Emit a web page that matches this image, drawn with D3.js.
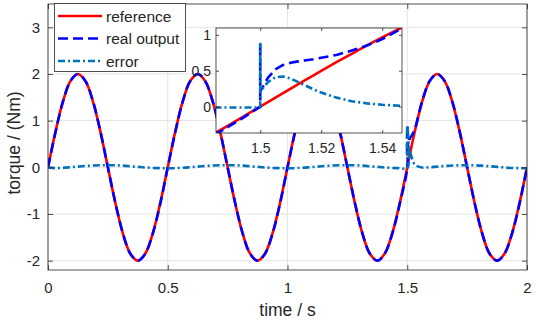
<!DOCTYPE html>
<html>
<head>
<meta charset="utf-8">
<script src="https://cdn.jsdelivr.net/npm/d3@7"></script>
<style>
  body { margin: 0; background: #fff; }
  svg { display: block; font-family: 'Liberation Sans', Arial, sans-serif; }
</style>
</head>
<body>
<svg id="chart" width="536" height="322"></svg>
<script>
// main plot samples (s), extra points around the disturbance at 1.5 s
const time = [
  0, 0.03125, 0.0625, 0.09375, 0.125, 0.15625, 0.1875, 0.21875, 0.25, 0.28125, 0.3125, 0.34375, 0.375, 0.40625, 0.4375, 0.46875,
  0.5, 0.53125, 0.5625, 0.59375, 0.625, 0.65625, 0.6875, 0.71875, 0.75, 0.78125, 0.8125, 0.84375, 0.875, 0.90625, 0.9375, 0.96875,
  1, 1.03125, 1.0625, 1.09375, 1.125, 1.15625, 1.1875, 1.21875, 1.25, 1.28125, 1.3125, 1.34375, 1.375, 1.40625, 1.4375, 1.46875,
  1.5, 1.5, 1.5, 1.505, 1.51, 1.52, 1.53125, 1.5625, 1.59375, 1.625, 1.65625, 1.6875, 1.71875, 1.75, 1.78125, 1.8125, 1.84375,
  1.875, 1.90625, 1.9375, 1.96875, 2
]
const reference = [
  0, 0.765, 1.414, 1.848, 2, 1.848, 1.414, 0.765, 0, -0.765, -1.414, -1.848, -2, -1.848, -1.414, -0.765,
  0, 0.765, 1.414, 1.848, 2, 1.848, 1.414, 0.765, 0, -0.765, -1.414, -1.848, -2, -1.848, -1.414, -0.765,
  0, 0.765, 1.414, 1.848, 2, 1.848, 1.414, 0.765, 0, -0.765, -1.414, -1.848, -2, -1.848, -1.414, -0.765,
  0, 0, 0, 0.126, 0.251, 0.497, 0.765, 1.414, 1.848, 2, 1.848, 1.414, 0.765, 0, -0.765, -1.414, -1.848,
  -2, -1.848, -1.414, -0.765, 0
]
const realOutput = [
  0, 0.75, 1.41, 1.85, 2, 1.85, 1.42, 0.77, 0, -0.76, -1.41, -1.85, -2, -1.85, -1.42, -0.78,
  0, 0.75, 1.41, 1.85, 2, 1.85, 1.42, 0.77, 0, -0.76, -1.41, -1.85, -2, -1.85, -1.42, -0.78,
  0, 0.75, 1.41, 1.85, 2, 1.85, 1.42, 0.77, 0, -0.76, -1.41, -1.85, -2, -1.85, -1.42, -0.78,
  0, 0.9, 0.22, 0.52, 0.61, 0.69, 0.81, 1.42, 1.85, 2, 1.85, 1.42, 0.77, 0, -0.76, -1.41, -1.85,
  -2, -1.85, -1.42, -0.78, 0
]
const trackError = [
  0, -0.018, -0.01, 0.002, 0.015, 0.028, 0.038, 0.044, 0.046, 0.044, 0.036, 0.024, 0.01, -0.003, -0.013, -0.018,
  -0.02, -0.018, -0.01, 0.002, 0.015, 0.028, 0.038, 0.044, 0.046, 0.044, 0.036, 0.024, 0.01, -0.003, -0.013, -0.018,
  -0.02, -0.018, -0.01, 0.002, 0.015, 0.028, 0.038, 0.044, 0.046, 0.044, 0.036, 0.024, 0.01, -0.003, -0.013, -0.018,
  -0.02, 0.9, 0.22, 0.42, 0.37, 0.19, 0.06, -0.005, 0.002, 0.015, 0.028, 0.038, 0.044, 0.046, 0.044, 0.036, 0.024,
  0.01, -0.003, -0.013, -0.018, -0.02
]

// zoomed-in window around 1.5 s
const insetTime = [1.485, 1.49, 1.495, 1.5, 1.5, 1.5, 1.5025, 1.505, 1.5075, 1.51, 1.5125, 1.515, 1.5175, 1.52, 1.525, 1.53, 1.535, 1.54, 1.5465]
const insetReference = [-0.375, -0.251, -0.126, 0, 0, 0, 0.063, 0.126, 0.188, 0.251, 0.313, 0.375, 0.436, 0.497, 0.618, 0.736, 0.852, 0.964, 1.103]
const insetOutput = [-0.395, -0.27, -0.14, 0, 0.9, 0.21, 0.4, 0.52, 0.58, 0.61, 0.63, 0.645, 0.66, 0.68, 0.72, 0.78, 0.85, 0.94, 1.09]
const insetError = [-0.012, -0.012, -0.012, -0.012, 0.87, 0.21, 0.34, 0.41, 0.42, 0.39, 0.34, 0.29, 0.24, 0.195, 0.125, 0.075, 0.045, 0.025, 0.01]

const xTicks = [0, 0.5, 1, 1.5, 2]
const yTicks = [-2, -1, 0, 1, 2, 3]
const insetXTicks = [1.5, 1.52, 1.54]
const insetYTicks = [0, 0.5, 1]
const seriesNames = ['reference', 'real output', 'error']

const styles = [
  { color: '#ff0000', dash: null },
  { color: '#0000ff', dash: '10,5' },
  { color: '#0072bd', dash: '7,3,2,3' }
]
const axisColor = '#262626'

function drawChart() {
  const svg = d3.select('#chart')
  svg.selectAll('*').remove()

  const x = d3.scaleLinear().domain([0, 2]).range([48, 527])
  const y = d3.scaleLinear().domain([-2.2, 3.5]).range([270, 4])

  const mainSeries = [reference, realOutput, trackError]
  const insetSeries = [insetReference, insetOutput, insetError]

  const defs = svg.append('defs')
  defs.append('clipPath').attr('id', 'clip-main')
    .append('rect')
    .attr('x', x.range()[0]).attr('y', y.range()[1])
    .attr('width', x.range()[1] - x.range()[0])
    .attr('height', y.range()[0] - y.range()[1])

  // grid
  const grid = svg.append('g').attr('stroke', '#e3e3e3').attr('stroke-width', 1)
  grid.selectAll('.gx').data(xTicks).join('line')
    .attr('x1', d => x(d)).attr('x2', d => x(d))
    .attr('y1', y.range()[0]).attr('y2', y.range()[1])
  grid.selectAll('.gy').data(yTicks).join('line')
    .attr('x1', x.range()[0]).attr('x2', x.range()[1])
    .attr('y1', d => y(d)).attr('y2', d => y(d))

  // curves
  const lineMain = d3.line()
    .x((d, k) => x(time[k]))
    .y(d => y(d))
    .curve(d3.curveCatmullRom.alpha(0.5))

  svg.append('g').attr('clip-path', 'url(#clip-main)')
    .selectAll('path')
    .data(mainSeries)
    .join('path')
    .attr('d', d => lineMain(d))
    .attr('fill', 'none')
    .attr('stroke', (d, i) => styles[i].color)
    .attr('stroke-width', 2.6)
    .attr('stroke-dasharray', (d, i) => styles[i].dash)

  drawFrame(svg, x, y, xTicks, yTicks, 5, 15, true)

  // axis labels
  svg.append('text')
    .attr('x', (x.range()[0] + x.range()[1]) / 2).attr('y', 316)
    .attr('text-anchor', 'middle').attr('font-size', 17.5).attr('fill', axisColor)
    .text('time / s')
  svg.append('text')
    .attr('transform', 'translate(20,143) rotate(-90)')
    .attr('text-anchor', 'middle').attr('font-size', 17.5).attr('fill', axisColor)
    .text('torque / (Nm)')

  // inset
  const xi = d3.scaleLinear().domain([1.4855, 1.5465]).range([216, 402])
  const yi = d3.scaleLinear().domain([-0.368, 1.095]).range([133, 28])

  defs.append('clipPath').attr('id', 'clip-inset')
    .append('rect')
    .attr('x', xi.range()[0]).attr('y', yi.range()[1])
    .attr('width', xi.range()[1] - xi.range()[0])
    .attr('height', yi.range()[0] - yi.range()[1])

  svg.append('rect')
    .attr('x', xi.range()[0]).attr('y', yi.range()[1])
    .attr('width', xi.range()[1] - xi.range()[0])
    .attr('height', yi.range()[0] - yi.range()[1])
    .attr('fill', '#fff')

  const lineInset = d3.line()
    .x((d, k) => xi(insetTime[k]))
    .y(d => yi(d))

  svg.append('g').attr('clip-path', 'url(#clip-inset)')
    .selectAll('path')
    .data(insetSeries)
    .join('path')
    .attr('d', d => lineInset(d))
    .attr('fill', 'none')
    .attr('stroke', (d, i) => styles[i].color)
    .attr('stroke-width', 2.6)
    .attr('stroke-linejoin', 'round')
    .attr('stroke-dasharray', (d, i) => styles[i].dash)

  drawFrame(svg, xi, yi, insetXTicks, insetYTicks, 3, 14, false)

  // legend
  const legend = svg.append('g')
  legend.append('rect')
    .attr('x', 54.5).attr('y', 3.5).attr('width', 131).attr('height', 68)
    .attr('fill', '#fff').attr('stroke', axisColor).attr('stroke-width', 0.8)
  const rows = legend.selectAll('g.row')
    .data(seriesNames)
    .join('g')
    .attr('class', 'row')
    .attr('transform', (d, i) => `translate(0,${16 + i * 22.5})`)
  rows.append('line')
    .attr('x1', 58).attr('x2', 102)
    .attr('stroke', (d, i) => styles[i].color)
    .attr('stroke-width', 2.6)
    .attr('stroke-dasharray', (d, i) => styles[i].dash)
  rows.append('text')
    .attr('x', 106).attr('y', 5.5)
    .attr('font-size', 15.5).attr('fill', axisColor)
    .text(d => d)
}

function drawFrame(svg, x, y, xt, yt, tickLen, fontSize, bigPadding) {
  const fmt = d => String(d)
  const x0 = x.range()[0], x1 = x.range()[1]
  const y0 = y.range()[0], y1 = y.range()[1]

  const bottom = svg.append('g').attr('transform', `translate(0,${y0})`)
    .call(d3.axisBottom(x).tickValues(xt).tickSize(-tickLen).tickSizeOuter(0)
      .tickPadding(bigPadding ? 12 : 10).tickFormat(fmt))
  const top = svg.append('g').attr('transform', `translate(0,${y1})`)
    .call(d3.axisTop(x).tickValues(xt).tickSize(-tickLen).tickSizeOuter(0).tickFormat(''))
  const left = svg.append('g').attr('transform', `translate(${x0},0)`)
    .call(d3.axisLeft(y).tickValues(yt).tickSize(-tickLen).tickSizeOuter(0)
      .tickPadding(bigPadding ? 8 : 5).tickFormat(fmt))
  const right = svg.append('g').attr('transform', `translate(${x1},0)`)
    .call(d3.axisRight(y).tickValues(yt).tickSize(-tickLen).tickSizeOuter(0).tickFormat(''))

  ;[bottom, top, left, right].forEach(g => {
    g.select('.domain').remove()
    g.selectAll('line').attr('stroke', axisColor).attr('stroke-width', 0.8)
    g.selectAll('text').attr('fill', axisColor).attr('font-size', fontSize)
      .attr('font-family', "'Liberation Sans', Arial, sans-serif")
  })

  svg.append('rect')
    .attr('x', x0).attr('y', y1)
    .attr('width', x1 - x0).attr('height', y0 - y1)
    .attr('fill', 'none').attr('stroke', axisColor).attr('stroke-width', 0.8)
}

document.addEventListener('DOMContentLoaded', drawChart, false)
</script>
</body>
</html>
